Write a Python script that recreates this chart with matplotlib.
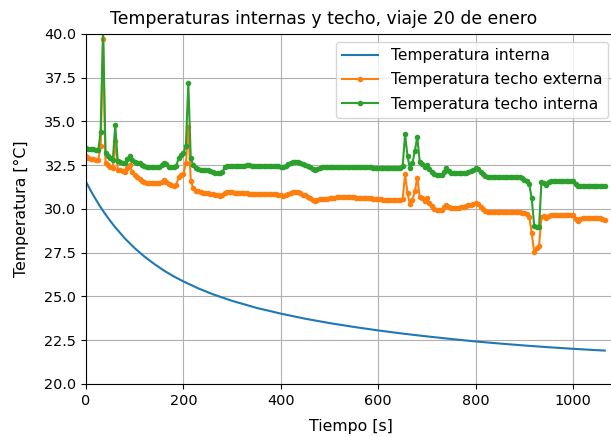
import matplotlib
matplotlib.use("Agg")
import matplotlib.pyplot as plt

# interior temperature (smooth decay)
t_int = [0, 10, 20, 30, 40, 50, 60, 80, 100, 120, 140, 160, 180, 200, 230, 260,
         300, 350, 400, 450, 500, 550, 600, 650, 700, 750, 800, 850, 900, 950,
         1000, 1050, 1065]
T_int = [31.55, 31.03, 30.55, 30.10, 29.69, 29.31, 28.95, 28.31, 27.76, 27.28,
         26.86, 26.48, 26.15, 25.86, 25.47, 25.13, 24.75, 24.35, 24.02, 23.73,
         23.48, 23.26, 23.06, 22.88, 22.72, 22.57, 22.43, 22.31, 22.20, 22.10,
         22.01, 21.93, 21.91]

# roof sensors, one sample every 5 s
t_techo = list(range(0, 1070, 5))
T_ext = [
    33.0, 32.9, 32.85, 32.85, 32.8, 32.8, 33.6, 39.7, 32.6, 32.5,
    32.42, 32.35, 33.9, 32.25, 32.2, 32.15, 32.1, 32.35, 32.5, 32.1,
    31.95, 31.8, 31.7, 31.6, 31.55, 31.5, 31.5, 31.48, 31.5, 31.5,
    31.5, 31.55, 31.66, 31.55, 31.4, 31.35, 31.3, 31.35, 31.8, 31.95,
    32.0, 32.6, 34.7, 31.6, 31.2, 31.05, 31.0, 30.95, 30.93, 30.9,
    30.9, 30.88, 30.85, 30.82, 30.78, 30.74, 30.8, 30.92, 30.98, 30.98,
    30.95, 30.92, 30.9, 30.9, 30.9, 30.9, 30.9, 30.88, 30.88, 30.88,
    30.87, 30.86, 30.86, 30.85, 30.85, 30.85, 30.84, 30.84, 30.84, 30.82,
    30.8, 30.75, 30.78, 30.85, 30.92, 30.95, 30.99, 30.97, 30.9, 30.82,
    30.78, 30.7, 30.62, 30.52, 30.47, 30.5, 30.55, 30.56, 30.56, 30.56,
    30.6, 30.62, 30.65, 30.68, 30.7, 30.7, 30.7, 30.68, 30.68, 30.67,
    30.66, 30.65, 30.64, 30.63, 30.62, 30.61, 30.6, 30.6, 30.59, 30.58,
    30.56, 30.55, 30.54, 30.53, 30.52, 30.52, 30.51, 30.5, 30.5, 30.5,
    30.55, 31.98, 30.9, 30.27, 30.5, 31.0, 31.79, 30.7, 30.6, 30.47,
    30.6, 30.35, 30.15, 30.0, 29.95, 29.94, 29.96, 30.1, 30.23, 30.12,
    30.08, 30.08, 30.08, 30.08, 30.1, 30.12, 30.15, 30.2, 30.25, 30.3,
    30.33, 30.28, 30.1, 30.0, 29.9, 29.85, 29.82, 29.82, 29.82, 29.82,
    29.82, 29.82, 29.81, 29.81, 29.8, 29.8, 29.8, 29.8, 29.8, 29.76,
    29.75, 29.72, 29.55, 28.6, 27.56, 27.75, 27.9, 29.56, 29.62, 29.48,
    29.6, 29.65, 29.66, 29.66, 29.66, 29.66, 29.66, 29.66, 29.66, 29.66,
    29.66, 29.4, 29.32, 29.45, 29.47, 29.47, 29.47, 29.47, 29.47, 29.47,
    29.47, 29.46, 29.44, 29.39,
]
T_techo_int = [
    33.5, 33.45, 33.4, 33.4, 33.35, 33.35, 34.4, 40.3, 33.2, 33.05,
    32.9, 32.8, 34.8, 32.75, 32.7, 32.65, 32.6, 32.85, 33.05, 32.8,
    32.7, 32.65, 32.6, 32.5, 32.45, 32.42, 32.42, 32.4, 32.42, 32.42,
    32.42, 32.5, 32.62, 32.55, 32.4, 32.38, 32.42, 32.45, 32.9, 33.1,
    33.2, 33.6, 37.2, 32.9, 32.5, 32.35, 32.3, 32.25, 32.22, 32.2,
    32.2, 32.15, 32.1, 32.05, 32.05, 32.05, 32.1, 32.4, 32.45, 32.45,
    32.45, 32.45, 32.47, 32.47, 32.48, 32.48, 32.5, 32.5, 32.48, 32.48,
    32.48, 32.47, 32.47, 32.46, 32.46, 32.45, 32.45, 32.45, 32.45, 32.44,
    32.42, 32.4, 32.45, 32.55, 32.62, 32.66, 32.69, 32.68, 32.63, 32.58,
    32.52, 32.45, 32.38, 32.28, 32.23, 32.3, 32.37, 32.38, 32.38, 32.38,
    32.4, 32.4, 32.41, 32.41, 32.42, 32.42, 32.42, 32.42, 32.41, 32.41,
    32.4, 32.4, 32.4, 32.39, 32.39, 32.38, 32.38, 32.38, 32.37, 32.37,
    32.36, 32.36, 32.36, 32.35, 32.35, 32.35, 32.35, 32.35, 32.35, 32.36,
    32.45, 34.27, 33.0, 32.32, 32.6, 33.3, 34.13, 32.7, 32.55, 32.4,
    32.5, 32.3, 32.1, 31.98, 31.95, 31.94, 31.96, 32.1, 32.35, 32.15,
    32.04, 32.04, 32.04, 32.05, 32.05, 32.06, 32.08, 32.1, 32.15, 32.25,
    32.35, 32.3, 32.12, 32.0, 31.88, 31.83, 31.82, 31.82, 31.82, 31.82,
    31.82, 31.82, 31.81, 31.81, 31.81, 31.8, 31.8, 31.8, 31.8, 31.75,
    31.68, 31.6, 31.4, 30.6, 29.05, 28.95, 28.95, 31.56, 31.5, 31.38,
    31.55, 31.6, 31.6, 31.6, 31.6, 31.6, 31.6, 31.6, 31.6, 31.6,
    31.6, 31.4, 31.3, 31.33, 31.34, 31.34, 31.34, 31.34, 31.34, 31.34,
    31.34, 31.33, 31.32, 31.3,
]

fig = plt.figure(figsize=(6.11, 4.37), dpi=100)
ax = fig.add_axes([0.1408, 0.1213, 0.8674, 0.8009])

ax.plot(t_int, T_int, label="Temperatura interna")
ax.plot(t_techo, T_ext, marker=".", label="Temperatura techo externa")
ax.plot(t_techo, T_techo_int, marker=".", label="Temperatura techo interna")

ax.set_xlim(0, 1088)
ax.set_ylim(20, 40)
ax.set_yticks([20, 22.5, 25, 27.5, 30, 32.5, 35, 37.5, 40])
ax.tick_params(labelsize=10.4)
ax.grid(True)
ax.set_title("Temperaturas internas y techo, viaje 20 de enero",
             fontsize=12.4, x=0.448, pad=7)
ax.set_xlabel("Tiempo [s]", fontsize=11.3, labelpad=8)
ax.set_ylabel("Temperatura [°C]", fontsize=11.3, labelpad=11)
ax.legend(loc="upper right", fontsize=11.2, handlelength=2.3, labelspacing=0.6)

fig.savefig("out.png", dpi=100)
